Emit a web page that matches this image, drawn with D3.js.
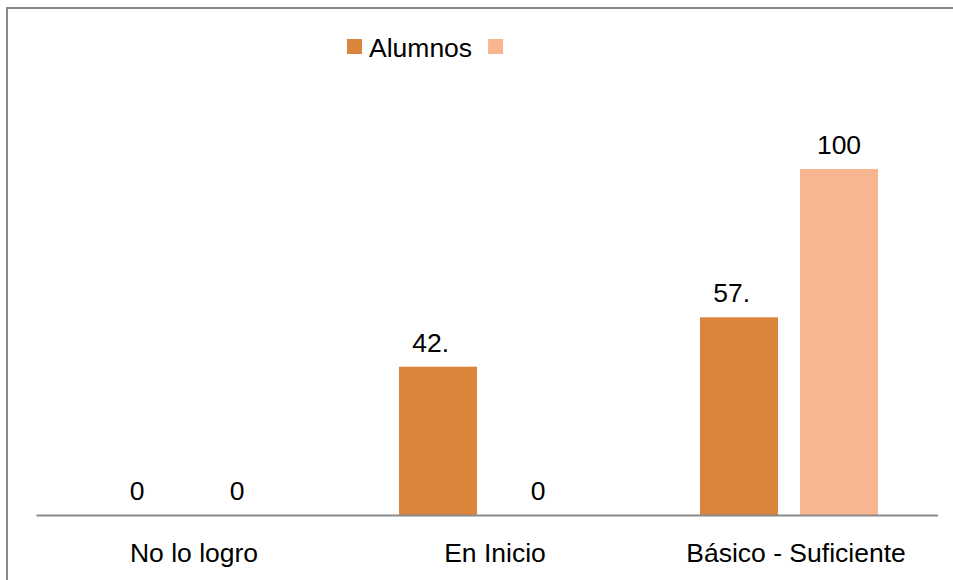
<!DOCTYPE html>
<html>
<head>
<meta charset="utf-8">
<script src="https://cdnjs.cloudflare.com/ajax/libs/d3/7.8.5/d3.min.js"></script>
<style>
  html, body { margin: 0; padding: 0; background: #fff; }
  svg { display: block; font-family: "Liberation Sans", Arial, sans-serif; }
</style>
</head>
<body>
<svg id="chart" width="953" height="580"></svg>
<script>
// ---- data ----
const categories = ["No lo logro", "En Inicio", "Básico - Suficiente"];
const seriesNames = ["Alumnos", ""];
const alumnosValues = [0, 42.86, 57.14];
const seriesBValues = [0, 0, 100];
const alumnosLabels = ["0", "42.", "57."];
const alumnosFullLabels = ["0", "42.9", "57.1"];
const seriesBLabels = ["0", "0", "100"];
const seriesBFullLabels = ["0", "0", "100"];
const colors = ["#DA843C", "#F8B590"];

const series = [
  { name: seriesNames[0], values: alumnosValues, labels: alumnosLabels, full: alumnosFullLabels, color: colors[0] },
  { name: seriesNames[1], values: seriesBValues, labels: seriesBLabels, full: seriesBFullLabels, color: colors[1] }
];

const svg = d3.select("#chart");
const fontSize = 26.5;

// frame (extends past right/bottom edge)
svg.append("rect")
  .attr("x", 7).attr("y", 8)
  .attr("width", 1000).attr("height", 700)
  .attr("fill", "none").attr("stroke", "#8a8a8a").attr("stroke-width", 2);

const x0 = d3.scaleBand().domain(categories).range([36.5, 939.5]).paddingInner(0).paddingOuter(0);
const x1 = d3.scaleBand().domain(d3.range(series.length)).range([61.5, 239.5]).paddingInner(0.22).paddingOuter(0);
const y = d3.scaleLinear().domain([0, 100]).range([515, 169]);

// bars
const groups = svg.append("g").selectAll("g")
  .data(series).join("g");

groups.selectAll("rect")
  .data((s, si) => s.values.map((v, i) => ({ v, i, si, color: s.color })))
  .join("rect")
  .attr("x", d => x0(categories[d.i]) + x1(d.si))
  .attr("y", d => y(d.v))
  .attr("width", x1.bandwidth())
  .attr("height", d => y(0) - y(d.v))
  .attr("fill", d => d.color);

// value labels
const labelG = svg.append("g")
  .attr("font-size", fontSize + "px").attr("fill", "#000");
series.forEach((s, si) => {
  s.values.forEach((v, i) => {
    const cx = x0(categories[i]) + x1(si) + x1.bandwidth() / 2;
    const t = labelG.append("text")
      .attr("y", y(v) - 15)
      .text(s.full[i]);
    const w = t.node().getComputedTextLength();
    t.attr("x", cx - w / 2).attr("text-anchor", "start").text(s.labels[i]);
  });
});

// axis line
svg.append("line")
  .attr("x1", x0.range()[0]).attr("x2", x0.range()[1] - 1.5)
  .attr("y1", y(0) + 0.5).attr("y2", y(0) + 0.5)
  .attr("stroke", "#8a8a8a").attr("stroke-width", 2);

// category labels
svg.append("g").selectAll("text")
  .data(categories).join("text")
  .attr("x", d => x0(d) + x0.bandwidth() / 2 + 7)
  .attr("y", 562)
  .attr("text-anchor", "middle")
  .attr("font-size", fontSize + "px")
  .attr("fill", "#000")
  .text(d => d);

// legend
const legend = svg.append("g").attr("font-size", fontSize + "px");
let lx = 347;
series.forEach((s, si) => {
  legend.append("rect")
    .attr("x", lx).attr("y", 39)
    .attr("width", 15).attr("height", 15)
    .attr("fill", s.color);
  lx += 22;
  if (s.name) {
    const t = legend.append("text")
      .attr("x", lx).attr("y", 57)
      .attr("fill", "#000")
      .text(s.name);
    lx += t.node().getComputedTextLength() + 16;
  }
});
</script>
</body>
</html>
